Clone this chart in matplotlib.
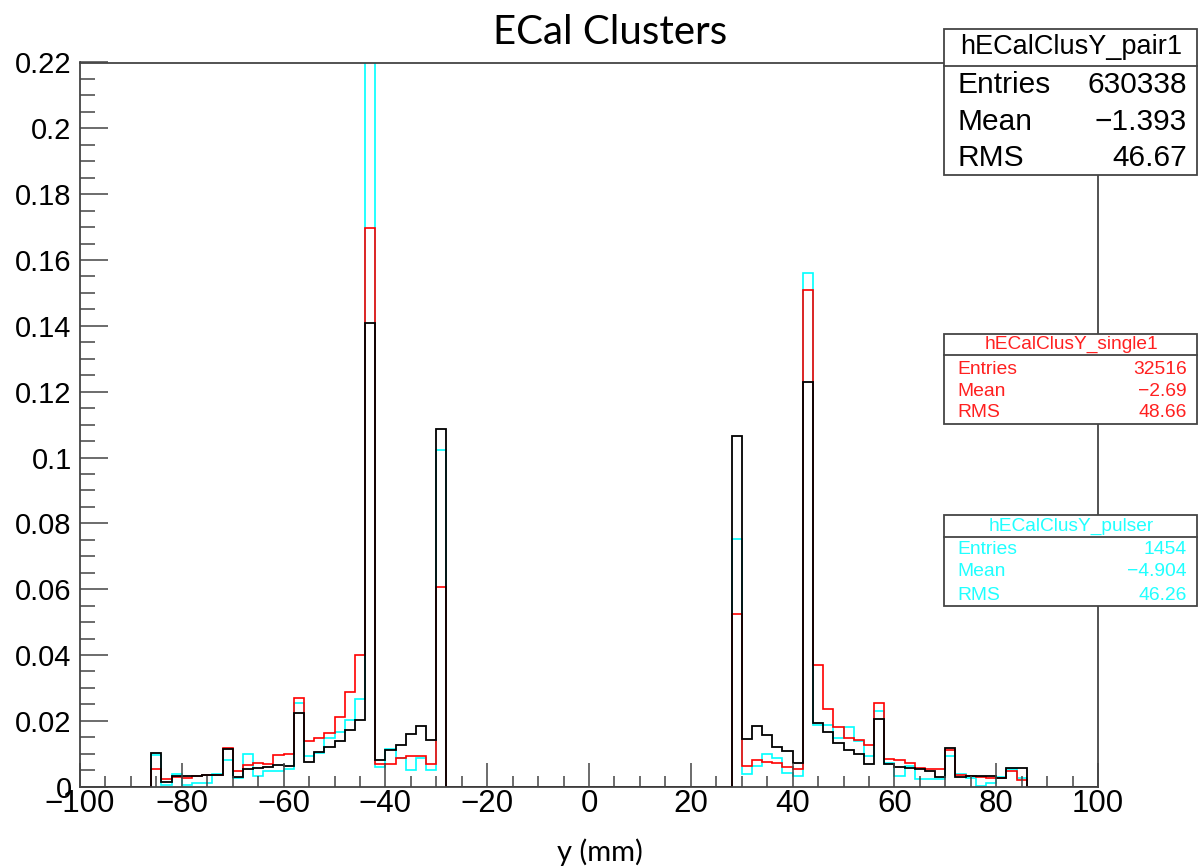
import matplotlib.pyplot as plt
import numpy as np
from matplotlib.lines import Line2D
from matplotlib.patches import Rectangle
from matplotlib.ticker import MultipleLocator, FuncFormatter

# 100 bins of 2 mm from -100 to 100; data only in [-86,-28] and [28,86]
edges = np.arange(-100, 101, 2)
left_start, right_start = -86, 28

pair1_left = [0.0103, 0.0014, 0.0032, 0.0032, 0.0034, 0.0035, 0.0035, 0.0116, 0.0029, 0.0053,
              0.0058, 0.0061, 0.0066, 0.0063, 0.0225, 0.0075, 0.0106, 0.0120, 0.0139, 0.0171,
              0.0202, 0.1410, 0.0080, 0.0113, 0.0126, 0.0159, 0.0184, 0.0142, 0.1088]
pair1_right = [0.1065, 0.0146, 0.0184, 0.0157, 0.0120, 0.0108, 0.0073, 0.1228, 0.0194, 0.0166,
               0.0132, 0.0113, 0.0100, 0.0070, 0.0207, 0.0068, 0.0061, 0.0056, 0.0053, 0.0048,
               0.0029, 0.0119, 0.0029, 0.0032, 0.0032, 0.0032, 0.0027, 0.0058, 0.0056]

single1_left = [0.0055, 0.0024, 0.0030, 0.0027, 0.0032, 0.0037, 0.0035, 0.0117, 0.0048, 0.0066,
                0.0073, 0.0070, 0.0097, 0.0100, 0.0268, 0.0139, 0.0149, 0.0164, 0.0213, 0.0288,
                0.0400, 0.1696, 0.0069, 0.0068, 0.0088, 0.0093, 0.0093, 0.0068, 0.0608]
single1_right = [0.0526, 0.0063, 0.0080, 0.0076, 0.0071, 0.0061, 0.0053, 0.1510, 0.0369, 0.0237,
                 0.0182, 0.0149, 0.0142, 0.0126, 0.0255, 0.0083, 0.0080, 0.0073, 0.0058, 0.0055,
                 0.0053, 0.0110, 0.0035, 0.0032, 0.0030, 0.0027, 0.0025, 0.0048, 0.0019]

pulser_left = [0.0095, 0.0004, 0.0040, 0.0005, 0.0012, 0.0012, 0.0040, 0.0081, 0.0027, 0.0100,
               0.0032, 0.0048, 0.0048, 0.0055, 0.0253, 0.0093, 0.0101, 0.0149, 0.0166, 0.0202,
               0.0265, 0.2250, 0.0060, 0.0115, 0.0088, 0.0050, 0.0088, 0.0051, 0.1022]
pulser_right = [0.0752, 0.0040, 0.0063, 0.0100, 0.0086, 0.0043, 0.0032, 0.1560, 0.0186, 0.0186,
                0.0149, 0.0181, 0.0139, 0.0093, 0.0230, 0.0073, 0.0032, 0.0063, 0.0022, 0.0022,
                0.0022, 0.0093, 0.0040, 0.0025, 0.0002, 0.0012, 0.0029, 0.0053, 0.0025]

stats = {
    "pair1": ("hECalClusY_pair1", "630338", "\u22121.393", "46.67"),
    "single1": ("hECalClusY_single1", "32516", "\u22122.69", "48.66"),
    "pulser": ("hECalClusY_pulser", "1454", "\u22124.904", "46.26"),
}


def full_hist(left, right):
    h = np.zeros(len(edges) - 1)
    i0 = (left_start - edges[0]) // 2
    i1 = (right_start - edges[0]) // 2
    h[i0:i0 + len(left)] = left
    h[i1:i1 + len(right)] = right
    return h


W, H = 1199, 868
fig = plt.figure(figsize=(W / 100, H / 100), dpi=100)
ax = fig.add_axes([80 / W, 1 - 786.7 / H, (1098 - 80) / W, (786.7 - 62.5) / H])

ax.stairs(full_hist(pulser_left, pulser_right), edges, color="#00ffff", lw=1.2)
ax.stairs(full_hist(single1_left, single1_right), edges, color="#ff0000", lw=1.2)
ax.stairs(full_hist(pair1_left, pair1_right), edges, color="black", lw=1.3)

ax.set_xlim(-100, 100)
ax.set_ylim(0, 0.22)
ax.xaxis.set_major_locator(MultipleLocator(20))
ax.xaxis.set_minor_locator(MultipleLocator(5))
ax.yaxis.set_major_locator(MultipleLocator(0.02))
ax.yaxis.set_minor_locator(MultipleLocator(0.005))
ax.xaxis.set_major_formatter(FuncFormatter(lambda v, p: f"{v:g}".replace("-", "\u2212")))
ax.yaxis.set_major_formatter(FuncFormatter(lambda v, p: f"{round(v, 4):g}"))
ax.tick_params(axis="x", which="major", direction="in", length=17, width=1.1, color="#444",
               labelsize=22.5, pad=2, labelfontfamily="Liberation Sans")
ax.tick_params(axis="x", which="minor", direction="in", length=8, width=1.1, color="#444")
ax.tick_params(axis="y", which="major", direction="in", length=20, width=1.1, color="#444",
               labelsize=21, pad=6, labelfontfamily="Liberation Sans")
ax.tick_params(axis="y", which="minor", direction="in", length=11, width=1.1, color="#444")
for s in ax.spines.values():
    s.set_color("#444")
    s.set_linewidth(1.3)

fig.text(610 / W, 1 - 32 / H, "ECal Clusters", ha="center", va="center",
         fontsize=29, family="Lato")
fig.text(600 / W, 1 - 852 / H, "y (mm)", ha="center", va="center",
         fontsize=21, family="Lato")


def fx(px):
    return px / W


def fy(py):
    return 1 - py / H


def stat_box(key, color, y0, ydiv, y1, ytitle, yrows, fs_title, fs_row):
    x0, x1 = 944, 1197
    fig.add_artist(Rectangle((fx(x0), fy(y1)), (x1 - x0) / W, (y1 - y0) / H,
                             transform=fig.transFigure, fc="white", ec="#444", lw=1.3))
    fig.add_artist(Line2D([fx(x0), fx(x1)], [fy(ydiv)] * 2, transform=fig.transFigure,
                          color="#444", lw=1.3))
    title, entries, mean, rms = stats[key]
    fig.text(fx(1071), fy(ytitle), title, ha="center", va="center", color=color,
             fontsize=fs_title, family="Liberation Sans")
    for (name, val), yr in zip([("Entries", entries), ("Mean", mean), ("RMS", rms)], yrows):
        fig.text(fx(957), fy(yr), name, ha="left", va="center", color=color,
                 fontsize=fs_row, family="Liberation Sans")
        fig.text(fx(1187), fy(yr), val, ha="right", va="center", color=color,
                 fontsize=fs_row, family="Liberation Sans")


stat_box("pair1", "black", 29, 66, 175, 47, [85, 121.5, 158], 19.5, 21.5)
stat_box("single1", "#ff2020", 334, 355, 424, 344, [369, 391, 412.5], 13.8, 13.9)
stat_box("pulser", "#20ffff", 515, 537, 606, 526, [550, 572, 595], 13.8, 13.9)

fig.savefig("out.png", dpi=100)
